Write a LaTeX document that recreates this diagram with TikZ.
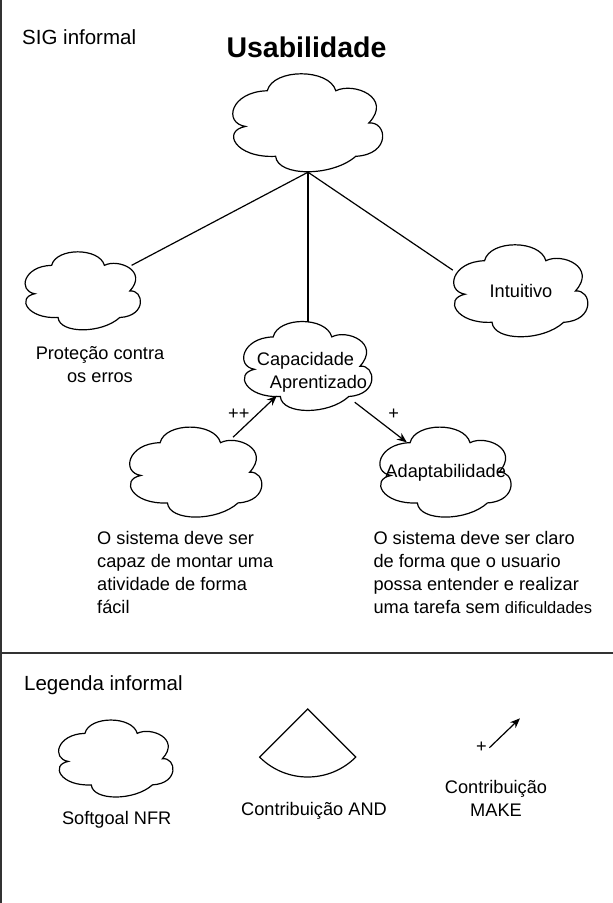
\documentclass[tikz,border=0pt]{standalone}
\usepackage{fontspec}
\setmainfont{Liberation Sans}
\usepackage{tikz}
\definecolor{framegray}{RGB}{51,51,51}
\usetikzlibrary{positioning}
\usetikzlibrary{calc}
\usetikzlibrary{arrows.meta}
\newcommand{\bodyfont}{\fontsize{18.2}{23}\selectfont}
\newcommand{\headfont}{\fontsize{20.5}{25}\selectfont}
\newcommand{\cloudpath}{(-0.268,-0.329) .. controls (-0.23,-0.56) and (0.14,-0.56) .. (0.183,-0.329)
  .. controls (0.30,-0.42) and (0.56,-0.26) .. (0.40,0.0)
  .. controls (0.52,-0.02) and (0.55,0.32) .. (0.314,0.34)
  .. controls (0.16,0.55) and (-0.20,0.55) .. (-0.213,0.34)
  .. controls (-0.48,0.36) and (-0.57,0.08) .. (-0.411,0.035)
  .. controls (-0.56,0.0) and (-0.51,-0.32) .. (-0.268,-0.329) -- cycle}
\tikzset{cloudline/.style={draw=black,line width=1.2pt}}
\tikzset{softgoal/.style 2 args={rectangle,minimum width=#1,minimum height=#2,inner sep=0pt,align=center,font=\bodyfont,
    append after command={\pgfextra{\draw[cloudline,shift={(\tikzlastnode.center)},xscale=#1,yscale=#2] \cloudpath;}}}}
\tikzset{link/.style={black,line width=1.2pt}}
\tikzset{contrib/.style={link,-{Stealth[length=10pt,width=8pt]}}}
\tikzset{contriblabel/.style={font=\bodyfont,inner sep=1pt}}
\tikzset{desc/.style={font=\bodyfont,inner sep=0pt}}

\begin{document}
\begin{tikzpicture}[x=1pt,y=-1pt]
  \useasboundingbox (0,0) rectangle (613,903);
  % Frame
  \draw[framegray,line width=2pt] (1,0) -- (1,903);
  \draw[framegray,line width=1.5pt] (0,653) -- (613,653);

  % Titles
  \node[anchor=west,inner sep=0pt,font=\headfont] (sigLabel) at (22,37) {SIG informal};
  \node[font=\fontsize{28.5}{34}\selectfont\bfseries] (title) at (306.5,47) {Usabilidade};

  % Softgoals
  \node[softgoal={152}{98}] (usab) at (308,123) {};
  \node[softgoal={117}{78}] (protec) at (83,291) {};
  \node[softgoal={136}{92}] (intuit) at (521,291) {Intuitivo};
  \node[softgoal={130}{89}] (capac) at (308,366.2) {\rule{0pt}{25pt}Capacidade\hspace*{5pt}\\\hspace*{21pt}Aprentizado};
  \node[softgoal={134}{90}] (ativ) at (196,472.3) {};
  \node[softgoal={133}{90}] (adapt) at (445.7,472.3) {Adaptabilidade};

  % Texts
  \node[desc,align=center] (protecText) at (100,364.7) {Proteção contra\\os erros};
  \node[desc,align=left,anchor=west] (ativText) at (97,572.7) {O sistema deve ser\\capaz de montar uma\\atividade de forma\\fácil};
  \node[desc,align=left,anchor=west] (adaptText) at (373.3,572.7) {O sistema deve ser claro\\de forma que o usuario\\possa entender e realizar\\uma tarefa sem {\fontsize{16.5}{23}\selectfont dificuldades}};

  % Links
  \draw[link] (usab.south) -- (capac.north);
  \draw[link,shorten >=55pt] (usab.south) -- (protec.center);
  \draw[link] (usab.south) -- (intuit.163);
  \draw[contrib,shorten <=51pt,shorten >=43pt] (ativ.center) -- node[contriblabel,left=1pt,yshift=5pt] (ppLabel) {++} (capac.center);
  \draw[contrib,shorten <=59pt,shorten >=49pt] (capac.center) -- node[contriblabel,right=10pt,yshift=5pt] (pLabel) {+} (adapt.center);

  % Legend
  \node[anchor=west,inner sep=0pt,font=\headfont] (legLabel) at (24,685) {Legenda informal};
  \node[softgoal={116}{77}] (legGoal) at (116,758.7) {};
  \node[desc] (legGoalText) at (116.7,819.3) {Softgoal NFR};

  \coordinate (andTip) at (307.7,709);
  \draw[link] (andTip) -- ++(-45:68pt) arc[start angle=-45,end angle=-135,radius=68pt] -- cycle;
  \node[desc] (andText) at (314,811) {Contribuição AND};

  \coordinate (makeTail) at (489.4,747.7);
  \coordinate (makeHead) at (520,718.3);
  \draw[contrib] (makeTail) -- node[at start,left=1pt,contriblabel] (makePlus) {+} (makeHead);
  \node[desc,align=center] (makeText) at (496,798.5) {Contribuição\\MAKE};
\end{tikzpicture}
\end{document}
